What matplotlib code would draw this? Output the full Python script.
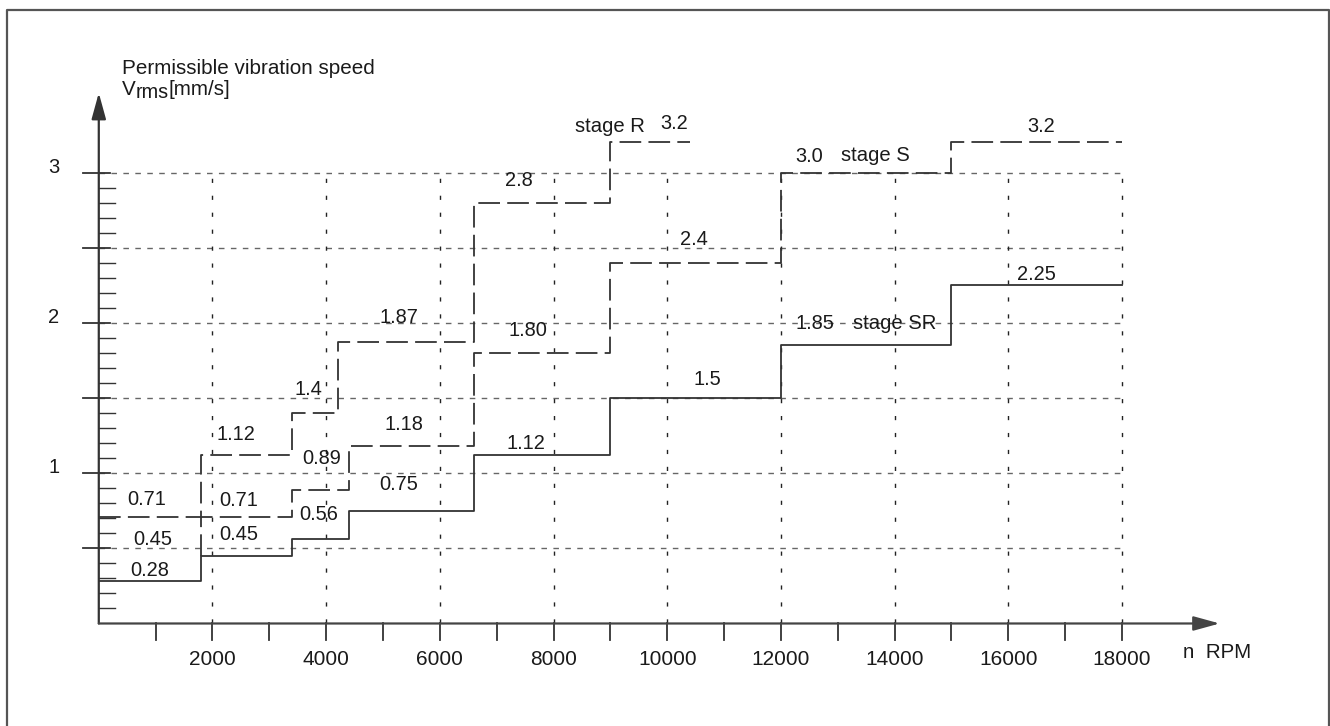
import matplotlib
matplotlib.use('Agg')
import matplotlib.pyplot as plt
from matplotlib.lines import Line2D

plt.rcParams['font.family'] = ['Liberation Sans', 'DejaVu Sans']

# speed bands (RPM) and permissible vibration speed per stage, mm/s
stage_r_edges = [0, 1800, 3400, 4200, 6600, 9000, 10400]
stage_r_labels = ['0.71', '1.12', '1.4', '1.87', '2.8', '3.2']
stage_s_edges = [0, 1800, 3400, 4400, 6600, 9000, 12000, 15000, 18000]
stage_s_labels = ['0.45', '0.71', '0.89', '1.18', '1.80', '2.4', '3.0', '3.2']
stage_sr_edges = [0, 1800, 3400, 4400, 6600, 9000, 12000, 15000, 18000]
stage_sr_labels = ['0.28', '0.45', '0.56', '0.75', '1.12', '1.5', '1.85', '2.25']

stage_r_values = [float(s) for s in stage_r_labels]
stage_s_values = [float(s) for s in stage_s_labels]
stage_sr_values = [float(s) for s in stage_sr_labels]

x_ticks = list(range(1000, 19000, 1000))
x_ticklabels = list(range(2000, 20000, 2000))
y_ticklabels = [1, 2, 3]

# where the value labels sit (x centre, y baseline)
r_lab_x = [846, 2414, 3683, 5286, 7383, 10115]
r_lab_y = [0.79, 1.22, 1.52, 2.0, 2.91, 3.29]
s_lab_x = [951, 2467, 3930, 5374, 7542, 10467, 12499, 16581]
s_lab_y = [0.52, 0.78, 1.06, 1.285, 1.914, 2.52, 3.073, 3.267]
sr_lab_x = [899, 2467, 3877, 5269, 7507, 10714, 12599, 16493]
sr_lab_y = [0.318, 0.556, 0.689, 0.888, 1.163, 1.587, 1.958, 2.285]


def step_path(edges, values):
    xs, ys = [], []
    for i, v in enumerate(values):
        xs += [edges[i], edges[i + 1]]
        ys += [v, v]
    return xs, ys


fig = plt.figure(figsize=(13.3, 7.26), dpi=100)
ax = fig.add_axes([0, 0, 1, 1])
ax.set_xlim(-1738, 21661)
ax.set_ylim(-0.682, 4.148)
ax.axis('off')

txt = '#1a1a1a'
line_c = '#333333'

# grid
for v in [0.5, 1.0, 1.5, 2.0, 2.5, 3.0]:
    ax.plot([0, 18000], [v, v], color='#666666', lw=1.0, ls=(0, (4.0, 4.6)), zorder=1)
for x in range(2000, 20000, 2000):
    ax.plot([x, x], [0, 3.0], color='#222222', lw=1.0, ls=(0, (3.0, 9.2)), zorder=1)

# axes with arrows
ax.annotate('', xy=(0, 3.53), xytext=(0, 0),
            arrowprops=dict(arrowstyle='-|>,head_length=0.8,head_width=0.22',
                            mutation_scale=20, lw=1.6, color='#333333',
                            shrinkA=0, shrinkB=0))
ax.annotate('', xy=(19720, 0), xytext=(0, 0),
            arrowprops=dict(arrowstyle='-|>,head_length=0.8,head_width=0.22',
                            mutation_scale=20, lw=1.6, color='#444444',
                            shrinkA=0, shrinkB=0))

# y ticks: long ones every 0.5, short ones every 0.1
for i in range(1, 31):
    v = i / 10
    if i % 5 == 0:
        ax.plot([-278, 197], [v, v], color='#333333', lw=1.3, zorder=2)
    else:
        ax.plot([0, 285], [v, v], color='#333333', lw=1.0, zorder=2)
for v in y_ticklabels:
    ax.text(-788, v, str(v), ha='center', va='baseline', fontsize=14.5, color=txt)

# x ticks
for x in x_ticks:
    ax.plot([x, x], [0, -0.11], color='#333333', lw=1.3, zorder=2)
for x in x_ticklabels:
    ax.text(x, -0.276, str(x), ha='center', va='baseline', fontsize=15, color=txt)
ax.text(19074, -0.2315, 'n  RPM', ha='left', va='baseline', fontsize=14.8, color=txt)

# axis title, subscript set by hand
ax.text(408, 3.656, 'Permissible vibration speed', ha='left', va='baseline',
        fontsize=14.9, color=txt)
ax.text(408, 3.516, 'V', ha='left', va='baseline', fontsize=14.9, color=txt)
ax.text(640, 3.494, 'rms', ha='left', va='baseline', fontsize=14.3, color=txt)
ax.text(1225, 3.516, '[mm/s]', ha='left', va='baseline', fontsize=14.9, color=txt)

# stage curves
xs, ys = step_path(stage_sr_edges, stage_sr_values)
ax.plot(xs, ys, color=line_c, lw=1.3, zorder=3)
xs, ys = step_path(stage_s_edges, stage_s_values)
ax.plot(xs[1:], ys[1:], color=line_c, lw=1.3, ls=(0, (12, 4)), zorder=3)
xs, ys = step_path(stage_r_edges, stage_r_values)
ax.plot(xs, ys, color=line_c, lw=1.3, ls=(0, (12, 4)), zorder=3)

# value labels
for labels, lx, ly in [(stage_r_labels, r_lab_x, r_lab_y),
                       (stage_s_labels, s_lab_x, s_lab_y),
                       (stage_sr_labels, sr_lab_x, sr_lab_y)]:
    for s, x, y in zip(labels, lx, ly):
        ax.text(x, y, s, ha='center', va='baseline', fontsize=14.4, color=txt, zorder=4)

ax.text(8999, 3.267, 'stage R', ha='center', va='baseline', fontsize=14.6, color=txt)
ax.text(13665, 3.08, 'stage S', ha='center', va='baseline', fontsize=14.6, color=txt)
ax.text(14009, 1.958, 'stage SR', ha='center', va='baseline', fontsize=14.6, color=txt)

# page frame, open at the bottom
fig.add_artist(Line2D([7 / 1330, 7 / 1330, 1329 / 1330, 1329 / 1330],
                      [0, 1 - 10 / 726, 1 - 10 / 726, 0],
                      transform=fig.transFigure, color='#555555', lw=1.6))

fig.savefig('out.png', dpi=100)
